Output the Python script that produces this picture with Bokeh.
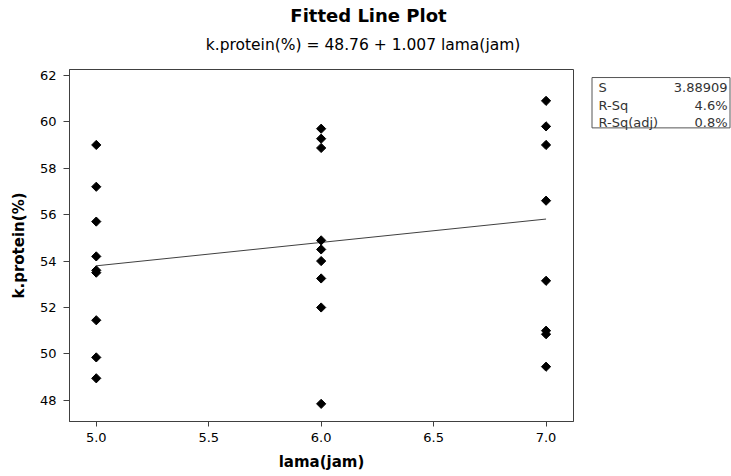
import math
from bokeh.plotting import figure
from bokeh.layouts import column, row
from bokeh.models import Range1d, FixedTicker, NumeralTickFormatter
from bokeh.core.properties import value
from bokeh.embed import file_html
from bokeh.resources import INLINE

# ---- data ----
lama_jam = [5.0] * 9 + [6.0] * 9 + [7.0] * 8
k_protein = [
    59.0, 57.2, 55.7, 54.2, 53.6, 53.5, 51.45, 49.85, 48.95,
    59.7, 59.27, 58.87, 54.89, 54.5, 54.0, 53.25, 52.0, 47.85,
    60.9, 59.8, 59.0, 56.6, 53.15, 51.0, 50.85, 49.45,
]
fit_intercept = 48.76
fit_slope = 1.007
fit_x = [5.0, 7.0]
fit_y = [fit_intercept + fit_slope * v for v in fit_x]

x_ticks = [5.0, 5.5, 6.0, 6.5, 7.0]
y_ticks = [48, 50, 52, 54, 56, 58, 60, 62]

stats_names = ["S", "R-Sq", "R-Sq(adj)"]
stats_values = ["3.88909", "4.6%", "0.8%"]

title_text = "Fitted Line Plot"
subtitle_text = "k.protein(%) =  48.76 + 1.007 lama(jam)"
x_label = "lama(jam)"
y_label = "k.protein(%)"

FONT = "DejaVu Sans"


def blank(w, h):
    f = figure(width=w, height=h, x_range=Range1d(0, w), y_range=Range1d(h, 0),
               x_axis_location=None, y_axis_location=None, min_border=0,
               output_backend="svg", toolbar_location=None, title=None)
    f.outline_line_color = None
    f.xgrid.visible = False
    f.ygrid.visible = False
    f.background_fill_color = "white"
    f.border_fill_color = "white"
    return f


# ---- title strip ----
head = blank(731, 60)
head.text(x=[368], y=[15], text=[title_text], text_font=value(FONT),
          text_font_size="18px", text_font_style="bold", text_align="center",
          text_baseline="middle", text_color="black")
head.text(x=[365], y=[44], text=[subtitle_text], text_font=value(FONT),
          text_font_size="15.5px", text_align="center",
          text_baseline="middle", text_color="black")

# ---- main plot ----
p = figure(
    width=588, height=416,
    min_border_left=69, min_border_right=15,
    min_border_top=9, min_border_bottom=55,
    x_range=Range1d(4.881, 7.122), y_range=Range1d(47.09, 62.25),
    output_backend="svg", toolbar_location=None, title=None,
)
p.background_fill_color = "white"
p.border_fill_color = "white"
p.outline_line_color = "#404040"
p.outline_line_width = 1
p.xgrid.visible = False
p.ygrid.visible = False

for ax in (p.xaxis[0], p.yaxis[0]):
    ax.axis_line_color = "#404040"
    ax.major_tick_line_color = "#404040"
    ax.major_tick_in = 0
    ax.minor_tick_line_color = None
    ax.major_label_text_font = FONT
    ax.major_label_text_font_size = "13px"
    ax.major_label_text_color = "black"
    ax.axis_label_text_font = FONT
    ax.axis_label_text_font_size = "15px"
    ax.axis_label_text_font_style = "bold"
    ax.axis_label_text_color = "black"

p.xaxis.major_tick_out = 5
p.yaxis.major_tick_out = 6
p.xaxis.ticker = FixedTicker(ticks=x_ticks)
p.xaxis.formatter = NumeralTickFormatter(format="0.0")
p.yaxis.ticker = FixedTicker(ticks=y_ticks)
p.xaxis.axis_label = x_label
p.yaxis.axis_label = y_label
p.xaxis.major_label_standoff = 6
p.yaxis.major_label_standoff = 7
p.xaxis.axis_label_standoff = 8
p.yaxis.axis_label_standoff = 9

p.line(fit_x, fit_y, line_color="#404040", line_width=1)
p.scatter(lama_jam, k_protein, marker="square", angle=math.pi / 4, size=6.5,
          fill_color="black", line_color="black")

# ---- stats box ----
side = blank(143, 416)
side.quad(left=[3.5], right=[141.5], top=[9.5], bottom=[69.0],
          fill_color=None, line_color="#555555", line_width=1)
row_y = [21.5, 42.0, 62.5]
side.text(x=[10] * 3, y=row_y, text=stats_names, text_font=value(FONT),
          text_font_size="13px", text_align="left", text_baseline="middle",
          text_color="#333333")
side.text(x=[139] * 3, y=row_y, text=stats_values, text_font=value(FONT),
          text_font_size="13px", text_align="right", text_baseline="middle",
          text_color="#333333")

layout = column(head, row(p, side, spacing=0), spacing=0)
open("out.html", "w").write(file_html(layout, INLINE))
